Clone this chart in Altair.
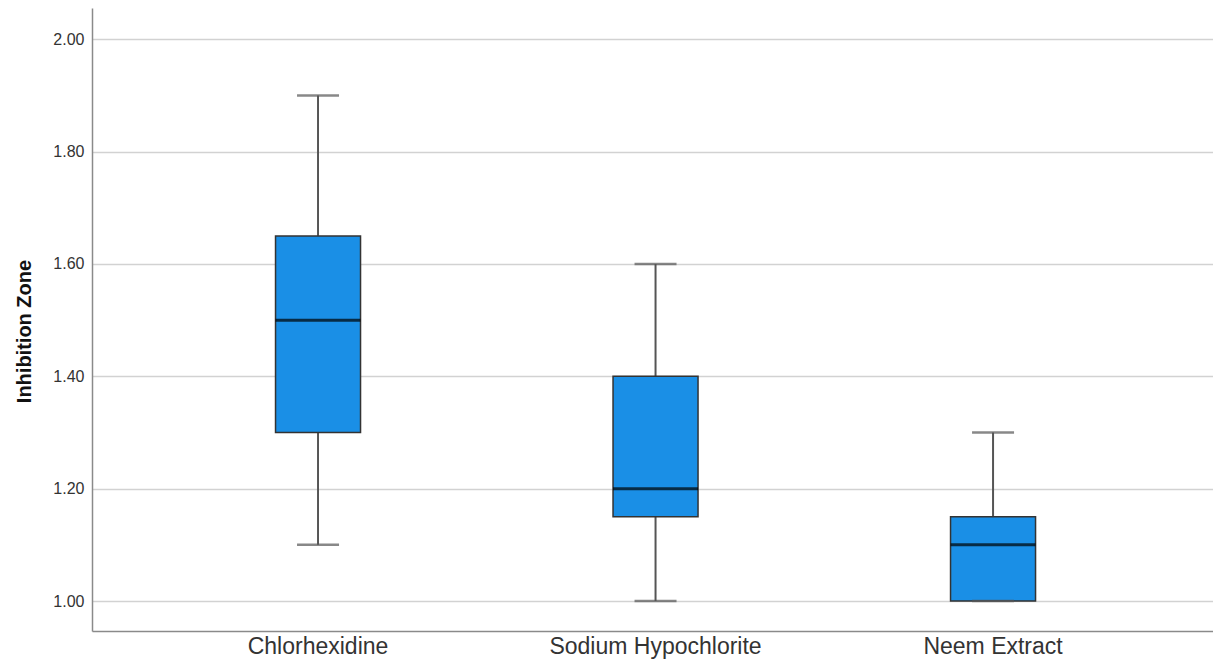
import altair as alt
import pandas as pd

groups = ["Chlorhexidine", "Sodium Hypochlorite", "Neem Extract"]
whisker_low = [1.10, 1.00, 1.00]
q1 = [1.30, 1.15, 1.00]
median = [1.50, 1.20, 1.10]
q3 = [1.65, 1.40, 1.15]
whisker_high = [1.90, 1.60, 1.30]
y_ticks = [1.0, 1.2, 1.4, 1.6, 1.8, 2.0]

df = pd.DataFrame({
    "group": groups,
    "lo": whisker_low,
    "q1": q1,
    "med": median,
    "q3": q3,
    "hi": whisker_high,
})

yscale = alt.Scale(domain=[0.9466, 2.0557], nice=False, zero=False)
xscale = alt.Scale(domain=groups, paddingInner=0, paddingOuter=0.1607, align=0.528)

x = alt.X("group:N", sort=groups, scale=xscale, title=None,
          axis=alt.Axis(labelAngle=0, labelFontSize=23, labelFont="Liberation Sans",
                        labelColor="#333333", labelPadding=4, labelLimit=0, ticks=False,
                        domainColor="#8a8a8a", domainWidth=1.5, grid=False))

base = alt.Chart(df)

whisk_lo = base.mark_rule(color="#555555", strokeWidth=2).encode(
    x=x,
    y=alt.Y("lo:Q", scale=yscale, title="Inhibition Zone",
            axis=alt.Axis(values=y_ticks, format=".2f", labelFontSize=16,
                          labelFont="Liberation Sans", labelColor="#333333",
                          labelPadding=8, ticks=False, domainColor="#8a8a8a",
                          domainWidth=1.5, gridColor="#d2d2d2", gridWidth=1.5,
                          titleFontSize=20, titleFont="Liberation Sans",
                          titleFontWeight="bold", titleColor="#111111",
                          titlePadding=18, titleY=323)),
    y2="q1:Q",
)
whisk_hi = base.mark_rule(color="#555555", strokeWidth=2).encode(
    x=x, y=alt.Y("q3:Q", scale=yscale), y2="hi:Q"
)
box = base.mark_bar(size=85, color="#1a8fe6", stroke="#333333", strokeWidth=1.5).encode(
    x=x, y=alt.Y("q1:Q", scale=yscale), y2="q3:Q"
)
cap_lo = base.mark_tick(size=42, thickness=2.5, color="#555555").encode(
    x=x, y=alt.Y("lo:Q", scale=yscale)
)
cap_hi = base.mark_tick(size=42, thickness=2.5, color="#555555").encode(
    x=x, y=alt.Y("hi:Q", scale=yscale)
)
med = base.mark_tick(size=85, thickness=3, color="#000000").encode(
    x=x, y=alt.Y("med:Q", scale=yscale)
)

chart = alt.layer(whisk_lo, whisk_hi, box, cap_lo, cap_hi, med).properties(
    width=1121, height=623,
    background="white",
    autosize=alt.AutoSizeParams(type="none"),
    padding={"left": 84, "top": 0, "right": 0, "bottom": 31},
).configure_view(strokeWidth=0)

chart.save("out.html", embed_options={"renderer": "svg", "actions": False})
